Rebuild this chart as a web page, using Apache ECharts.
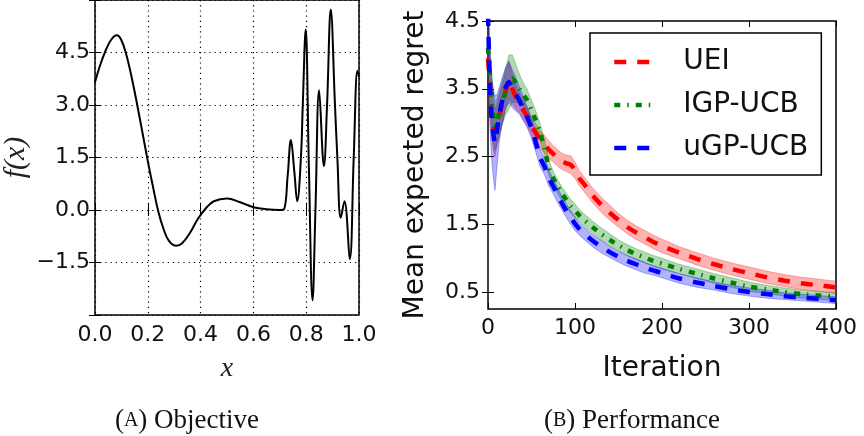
<!DOCTYPE html>
<html>
<head>
<meta charset="utf-8">
<script src="https://cdn.jsdelivr.net/npm/echarts@6/dist/echarts.min.js"></script>
<style>
html, body { margin: 0; padding: 0; background: #fff; }
#main { width: 864px; height: 436px; }
</style>
</head>
<body>
<div id="main"></div>
<script>
// (A) objective f(x)
var objX = [0, 0.02, 0.04, 0.06, 0.082, 0.10, 0.12, 0.14, 0.16, 0.18, 0.20, 0.22, 0.24, 0.26, 0.28, 0.308, 0.33, 0.36, 0.39, 0.42, 0.45, 0.50, 0.55, 0.60, 0.65, 0.70, 0.716, 0.73, 0.742, 0.755, 0.766, 0.78, 0.787, 0.798, 0.81, 0.824, 0.835, 0.849, 0.867, 0.879, 0.893, 0.909, 0.918, 0.931, 0.945, 0.965, 0.98, 0.994, 1.0];
var objY = [3.65, 4.15, 4.55, 4.85, 4.99, 4.85, 4.40, 3.75, 3.00, 2.20, 1.40, 0.65, -0.05, -0.55, -0.88, -1.02, -0.95, -0.65, -0.25, 0.05, 0.25, 0.33, 0.22, 0.08, 0.02, 0.00, 0.02, 1.0, 2.0, 1.1, 0.25, 1.5, 3.0, 5.16, 1.3, -2.58, 0.0, 3.42, 1.25, 3.0, 5.73, 3.0, 1.5, -0.22, 0.25, -1.40, 1.5, 3.98, 3.8];
var objXTicks = [0, 0.2, 0.4, 0.6, 0.8, 1.0];
var objYTicks = [-1.5, 0, 1.5, 3, 4.5];

// (B) mean expected regret per iteration, with the shaded spread
var iterations = [0, 2, 4, 6, 8, 10, 13, 16, 20, 24, 28, 32, 36, 40, 45, 50, 55, 60, 65, 70, 75, 80, 85, 90, 95, 100, 105, 110, 120, 130, 140, 150, 160, 170, 180, 190, 200, 220, 240, 260, 280, 300, 320, 340, 360, 380, 400];
var ueiMean = [3.95, 3.60, 3.15, 2.95, 2.85, 2.95, 3.10, 3.25, 3.45, 3.63, 3.50, 3.38, 3.30, 3.20, 3.09, 2.95, 2.85, 2.75, 2.68, 2.60, 2.54, 2.48, 2.43, 2.40, 2.38, 2.30, 2.18, 2.10, 1.93, 1.79, 1.67, 1.56, 1.46, 1.38, 1.31, 1.24, 1.18, 1.08, 0.99, 0.91, 0.84, 0.78, 0.72, 0.67, 0.63, 0.60, 0.57];
var ueiSpread = [0.50, 0.40, 0.35, 0.35, 0.35, 0.30, 0.30, 0.28, 0.28, 0.28, 0.22, 0.18, 0.15, 0.14, 0.13, 0.13, 0.13, 0.13, 0.13, 0.13, 0.12, 0.12, 0.12, 0.12, 0.13, 0.12, 0.11, 0.11, 0.11, 0.11, 0.11, 0.10, 0.10, 0.10, 0.10, 0.10, 0.10, 0.09, 0.09, 0.09, 0.09, 0.09, 0.09, 0.09, 0.09, 0.09, 0.09];
var igpMean = [4.10, 3.75, 3.40, 3.10, 2.95, 3.00, 3.15, 3.28, 3.45, 3.60, 3.65, 3.58, 3.50, 3.42, 3.33, 3.18, 3.03, 2.85, 2.62, 2.33, 2.18, 2.06, 1.95, 1.86, 1.77, 1.70, 1.63, 1.57, 1.46, 1.36, 1.27, 1.19, 1.12, 1.06, 1.01, 0.96, 0.92, 0.84, 0.77, 0.70, 0.64, 0.58, 0.54, 0.50, 0.47, 0.45, 0.43];
var igpSpread = [0.45, 0.40, 0.38, 0.36, 0.36, 0.34, 0.32, 0.32, 0.34, 0.40, 0.35, 0.28, 0.22, 0.18, 0.16, 0.15, 0.14, 0.13, 0.12, 0.11, 0.10, 0.10, 0.10, 0.10, 0.10, 0.10, 0.09, 0.09, 0.09, 0.09, 0.09, 0.08, 0.08, 0.08, 0.08, 0.08, 0.08, 0.07, 0.07, 0.07, 0.07, 0.07, 0.06, 0.06, 0.06, 0.06, 0.06];
var ugpMean = [4.60, 3.60, 3.09, 2.85, 2.70, 2.85, 3.12, 3.30, 3.51, 3.60, 3.50, 3.42, 3.33, 3.22, 3.08, 2.92, 2.70, 2.48, 2.35, 2.18, 2.06, 1.93, 1.81, 1.70, 1.60, 1.51, 1.43, 1.37, 1.26, 1.17, 1.09, 1.02, 0.96, 0.91, 0.86, 0.82, 0.78, 0.70, 0.64, 0.59, 0.54, 0.50, 0.47, 0.44, 0.42, 0.40, 0.38];
var ugpSpread = [0.60, 0.60, 0.60, 0.65, 0.70, 0.55, 0.40, 0.35, 0.30, 0.30, 0.28, 0.25, 0.20, 0.18, 0.15, 0.15, 0.14, 0.13, 0.12, 0.12, 0.11, 0.11, 0.10, 0.10, 0.10, 0.10, 0.09, 0.09, 0.09, 0.09, 0.08, 0.08, 0.08, 0.08, 0.08, 0.07, 0.07, 0.07, 0.07, 0.06, 0.06, 0.06, 0.06, 0.05, 0.05, 0.05, 0.05];
var iterTicks = [0, 100, 200, 300, 400];
var regretTicks = [0.5, 1.5, 2.5, 3.5, 4.5];

var myChart = echarts.init(document.getElementById('main'));

var sans = 'DejaVu Sans';
var tickStyle = { show: true, inside: true, length: 6, lineStyle: { color: '#000', width: 1 } };

function fmt1(v) {
    return (v < 0 ? '\u2212' : '') + Math.abs(v).toFixed(1);
}

// shaded spread: one polygon, upper edge forward then lower edge back
function bandSeries(key, mean, spread, fill) {
    return {
        type: 'custom', name: key + ' band', xAxisIndex: 2, yAxisIndex: 2,
        clip: true, silent: true, z: 2,
        data: iterations.map(function (t, i) { return [t, mean[i] - spread[i], mean[i] + spread[i]]; }),
        encode: { x: 0, y: [1, 2] },
        renderItem: function (params, api) {
            if (params.dataIndex !== 0) return;
            var upper = [], lower = [];
            for (var i = 0; i < iterations.length; i++) {
                upper.push(api.coord([iterations[i], mean[i] + spread[i]]));
                lower.unshift(api.coord([iterations[i], mean[i] - spread[i]]));
            }
            return {
                type: 'polygon',
                shape: { points: upper.concat(lower) },
                style: { fill: fill, stroke: fill, lineWidth: 1 }
            };
        }
    };
}

function meanSeries(name, mean, color, dash) {
    return {
        name: name, type: 'line', xAxisIndex: 2, yAxisIndex: 2,
        symbol: 'none', smooth: 0.2, z: 5,
        data: iterations.map(function (t, i) { return [t, mean[i]]; }),
        itemStyle: { color: color },
        lineStyle: { color: color, width: 4.5, type: dash }
    };
}

var option = {
    animation: false,
    backgroundColor: '#fff',
    textStyle: { fontFamily: sans, color: '#111' },
    grid: [
        { left: 94, top: -2, width: 265, height: 317, show: true, borderColor: '#000', borderWidth: 1.5 },
        { left: 488, top: 21, width: 348, height: 288, show: true, borderColor: '#000', borderWidth: 1.5 }
    ],
    xAxis: [
        {
            gridIndex: 0, type: 'value', min: 0, max: 1, interval: 0.2, position: 'bottom',
            axisLine: { show: false }, axisTick: tickStyle,
            axisLabel: { customValues: objXTicks, formatter: fmt1, fontSize: 22, color: '#111', margin: 9 },
            splitLine: { show: true, lineStyle: { color: '#000', width: 1.2, type: [1.2, 4] } },
            name: 'x', nameLocation: 'middle', nameGap: 40,
            nameTextStyle: { fontFamily: 'Liberation Serif', fontStyle: 'italic', fontSize: 28, color: '#222' }
        },
        {
            gridIndex: 0, type: 'value', min: 0, max: 1, interval: 0.2, position: 'top',
            axisLine: { show: false }, axisTick: tickStyle, axisLabel: { show: false }, splitLine: { show: false }
        },
        {
            gridIndex: 1, type: 'value', min: 0, max: 400, interval: 100, position: 'bottom',
            axisLine: { show: false }, axisTick: tickStyle,
            axisLabel: { customValues: iterTicks, fontSize: 22, color: '#111', margin: 8 },
            splitLine: { show: false },
            name: 'Iteration', nameLocation: 'middle', nameGap: 46,
            nameTextStyle: { fontSize: 28, color: '#111' }
        },
        {
            gridIndex: 1, type: 'value', min: 0, max: 400, interval: 100, position: 'top',
            axisLine: { show: false }, axisTick: tickStyle, axisLabel: { show: false }, splitLine: { show: false }
        }
    ],
    yAxis: [
        {
            gridIndex: 0, type: 'value', min: -3, max: 6, interval: 1.5, position: 'left',
            axisLine: { show: false }, axisTick: tickStyle,
            axisLabel: { customValues: objYTicks, formatter: fmt1, fontSize: 22, color: '#111', margin: 5 },
            splitLine: { show: true, lineStyle: { color: '#000', width: 1.2, type: [1.2, 4] } },
            name: 'f(x)', nameLocation: 'middle', nameGap: 64, nameRotate: 90,
            nameTextStyle: { fontFamily: 'Liberation Serif', fontStyle: 'italic', fontSize: 30, color: '#222' }
        },
        {
            gridIndex: 0, type: 'value', min: -3, max: 6, interval: 1.5, position: 'right',
            axisLine: { show: false }, axisTick: tickStyle, axisLabel: { show: false }, splitLine: { show: false }
        },
        {
            gridIndex: 1, type: 'value', min: 0.25, max: 4.5, position: 'left',
            axisLine: { show: false },
            axisTick: Object.assign({ customValues: regretTicks }, tickStyle),
            axisLabel: { customValues: regretTicks, formatter: fmt1, fontSize: 22, color: '#111', margin: 8 },
            splitLine: { show: false },
            name: 'Mean expected regret', nameLocation: 'middle', nameGap: 58, nameRotate: 90,
            nameTextStyle: { fontSize: 28, color: '#111' }
        },
        {
            gridIndex: 1, type: 'value', min: 0.25, max: 4.5, position: 'right',
            axisLine: { show: false },
            axisTick: Object.assign({ customValues: regretTicks }, tickStyle),
            axisLabel: { show: false }, splitLine: { show: false }
        }
    ],
    legend: {
        data: ['UEI', 'IGP-UCB', 'uGP-UCB'],
        orient: 'vertical', left: 590, top: 33,
        itemWidth: 36, itemHeight: 14, itemGap: 15,
        padding: [15, 13, 13, 22],
        backgroundColor: '#fff', borderColor: '#000', borderWidth: 1.5, borderRadius: 0,
        selectedMode: false,
        itemStyle: { opacity: 0, borderWidth: 0 },
        lineStyle: { width: 4.5 },
        textStyle: { fontSize: 28, color: '#111', fontFamily: sans, padding: [0, 0, 0, 28] }
    },
    graphic: [
        {
            type: 'text', x: 187, y: 421,
            style: {
                text: '{p|(}{s|A}{p|) Objective}', textAlign: 'center', textVerticalAlign: 'middle',
                rich: {
                    p: { fontFamily: 'Liberation Serif', fontSize: 27, fill: '#111' },
                    s: { fontFamily: 'Liberation Serif', fontSize: 20, fill: '#111' }
                }
            }
        },
        {
            type: 'text', x: 632, y: 421,
            style: {
                text: '{p|(}{s|B}{p|) Performance}', textAlign: 'center', textVerticalAlign: 'middle',
                rich: {
                    p: { fontFamily: 'Liberation Serif', fontSize: 27, fill: '#111' },
                    s: { fontFamily: 'Liberation Serif', fontSize: 20, fill: '#111' }
                }
            }
        }
    ],
    series: [
        {
            name: 'f(x)', type: 'line', xAxisIndex: 0, yAxisIndex: 0,
            symbol: 'none', smooth: 0.4,
            data: objX.map(function (x, i) { return [x, objY[i]]; }),
            lineStyle: { color: '#000', width: 2 }
        },
        bandSeries('uei', ueiMean, ueiSpread, 'rgba(255,0,0,0.3)'),
        bandSeries('igp', igpMean, igpSpread, 'rgba(0,128,0,0.3)'),
        bandSeries('ugp', ugpMean, ugpSpread, 'rgba(0,0,255,0.3)'),
        meanSeries('UEI', ueiMean, '#ff0000', [12, 11]),
        meanSeries('IGP-UCB', igpMean, '#008000', [6, 7, 1.5, 7]),
        meanSeries('uGP-UCB', ugpMean, '#0000ff', [12, 11])
    ]
};

myChart.setOption(option);
</script>
</body>
</html>
